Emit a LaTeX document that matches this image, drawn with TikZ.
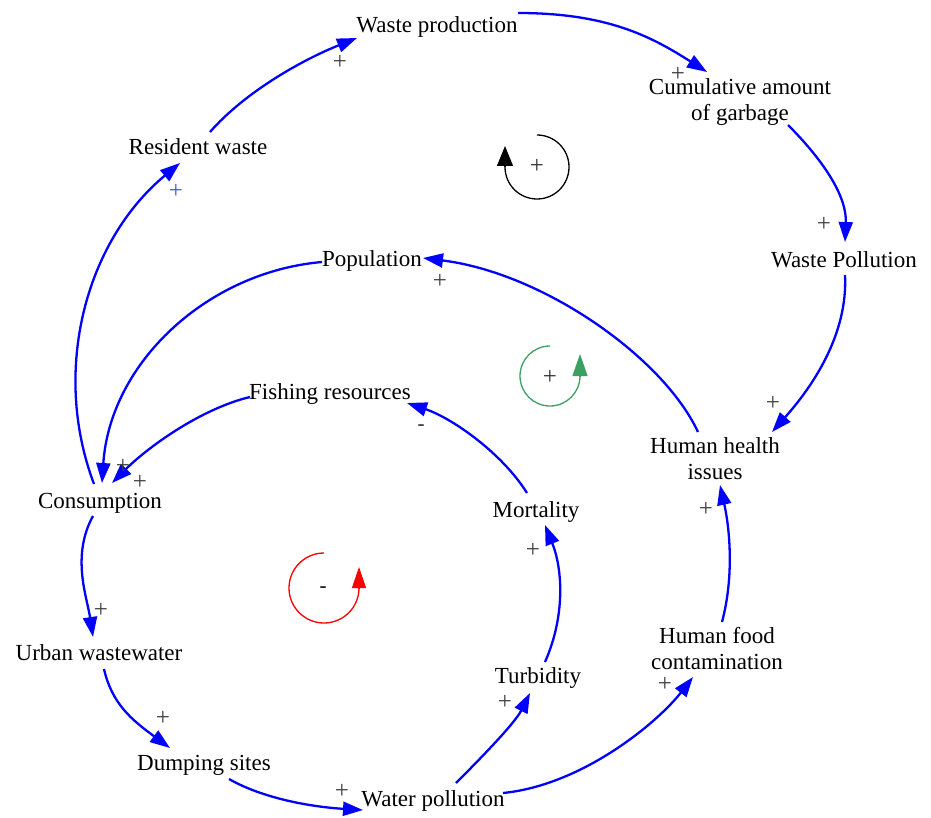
\documentclass[tikz,border=0pt]{standalone}
\usepackage{fontspec}
\setmainfont{Liberation Serif}
\usetikzlibrary{arrows.meta}
\definecolor{loopgreen}{RGB}{60,160,100}
\definecolor{plusblue}{RGB}{70,90,230}
\tikzset{
  var/.style={font=\fontsize{23}{26}\selectfont, inner sep=2pt},
  vartwo/.style={var, align=center},
  lbl/.style={font=\fontsize{25}{27}\selectfont, text=black!75, inner sep=0pt},
  mlbl/.style={font=\fontsize{21}{23}\selectfont, text=black!85, inner sep=0pt},
  link/.style={draw=blue, line width=2.3pt, -{Triangle[length=20pt,width=14pt]}},
  loopline/.style={line width=1.3pt},
}
\begin{document}
\begin{tikzpicture}[x=1pt,y=-1pt]
\useasboundingbox (0,0) rectangle (931,818);

% variables
\node[var, anchor=base] (wp)   at (437,33)  {Waste production};
\node[vartwo]           (cum)  at (740,102) {Cumulative amount\\of garbage};
\node[var, anchor=base] (rw)   at (198,155) {Resident waste};
\node[var, anchor=base] (wpol) at (844,267) {Waste Pollution};
\node[var, anchor=base] (pop)  at (372,266) {Population};
\node[var, anchor=base] (fr)   at (330,399) {Fishing resources};
\node[vartwo]           (hhi)  at (715,459) {Human health\\issues};
\node[var, anchor=base] (con)  at (100,508) {Consumption};
\node[var, anchor=base] (mort) at (536,517) {Mortality};
\node[var, anchor=base] (uw)   at (99,660)  {Urban wastewater};
\node[vartwo]           (hfc)  at (717,649) {Human food\\contamination};
\node[var, anchor=base] (turb) at (538,683) {Turbidity};
\node[var, anchor=base] (ds)   at (204,770) {Dumping sites};
\node[var, anchor=base] (wpo)  at (433,806) {Water pollution};

% links
\draw[link] ([shift={(12,-23)}]rw.base) .. controls +(35,-40) and +(-55,22) .. ([shift={(-80,5)}]wp.base);
\draw[link] ([shift={(81,-20)}]wp.base) .. controls +(90,0) and +(-55,-35) .. ([shift={(-33,-30)}]cum.center);
\draw[link] ([shift={(48,23)}]cum.center) .. controls +(28,28) and +(2,-50) .. ([shift={(1,-25)}]wpol.base);
\draw[link] ([shift={(1,8)}]wpol.base) .. controls +(3,60) and +(40,-45) .. ([shift={(57,-27)}]hhi.center);
\draw[link] ([shift={(-17,-27)}]hhi.center) .. controls +(-35,-75) and +(120,15) .. ([shift={(51,-8)}]pop.base);
\draw[link] ([shift={(-50,-4)}]pop.base) .. controls +(-115,10) and +(8,-120) .. ([shift={(2,-25)}]con.base);
\draw[link] ([shift={(-80,-2)}]fr.base) .. controls +(-50,12) and +(35,-35) .. ([shift={(12,-25)}]con.base);
\draw[link] ([shift={(-6,-24)}]con.base) .. controls +(-43,-114) and +(-94,78) .. ([shift={(-18,8)}]rw.base);
\draw[link] ([shift={(-7,8)}]con.base) .. controls +(-22,40) and +(-6,-40) .. ([shift={(-6,-23)}]uw.base);
\draw[link] ([shift={(5,9)}]uw.base) .. controls +(8,35) and +(-38,-28) .. ([shift={(-34,-22)}]ds.base);
\draw[link] ([shift={(25,9)}]ds.base) .. controls +(35,20) and +(-50,-3) .. ([shift={(-70,4)}]wpo.base);
\draw[link] ([shift={(23,-23)}]wpo.base) .. controls +(25,-25) and +(-15,30) .. ([shift={(-8,10)}]turb.base);
\draw[link] ([shift={(70,-13)}]wpo.base) .. controls +(80,-8) and +(-35,45) .. ([shift={(-24,28)}]hfc.center);
\draw[link] ([shift={(7,-21)}]turb.base) .. controls +(20,-45) and +(18,45) .. ([shift={(9,8)}]mort.base);
\draw[link] ([shift={(-9,-24)}]mort.base) .. controls +(-25,-40) and +(45,15) .. ([shift={(77,4)}]fr.base);
\draw[link] ([shift={(5,-27)}]hfc.center) .. controls +(12,-45) and +(10,45) .. ([shift={(5,26)}]hhi.center);

% polarity labels
\node[lbl] (p1)  at (340,62)  {+};
\node[lbl] (p2)  at (678,74)  {+};
\node[lbl] (p3)  at (824,224) {+};
\node[lbl] (p4)  at (773,403) {+};
\node[lbl] (p5)  at (440,281) {+};
\node[lbl] (p6)  at (123,466) {+};
\node[lbl] (p7)  at (140,482) {+};
\node[lbl, text=plusblue] (p8) at (176,191) {+};
\node[lbl] (p9)  at (101,610) {+};
\node[lbl] (p10) at (163,718) {+};
\node[lbl] (p11) at (342,791) {+};
\node[lbl] (p12) at (505,702) {+};
\node[lbl] (p13) at (665,684) {+};
\node[lbl] (p14) at (533,550) {+};
\node[lbl] (p15) at (706,509) {+};
\node[mlbl] (m1) at (421,428) {-};

% loop markers
\coordinate (lb) at (537,167);
\draw[loopline, black] ([shift={(0,-32)}]lb) .. controls +(17.7,0) and +(0,-17.7) .. ([shift={(32,0)}]lb)
  .. controls +(0,17.7) and +(17.7,0) .. ([shift={(0,32)}]lb)
  .. controls +(-17.7,0) and +(0,17.7) .. ([shift={(-32,0)}]lb);
\draw[loopline, black, -{Triangle[length=20pt,width=16pt]}] ([shift={(-32,0)}]lb) -- ([shift={(-32,-21)}]lb);
\node[lbl, text=black!80] (lbt) at (537,166) {+};

\coordinate (lg) at (550,376);
\draw[loopline, loopgreen] ([shift={(0,-30)}]lg) .. controls +(-16.6,0) and +(0,-16.6) .. ([shift={(-30,0)}]lg)
  .. controls +(0,16.6) and +(-16.6,0) .. ([shift={(0,30)}]lg)
  .. controls +(16.6,0) and +(0,16.6) .. ([shift={(30,0)}]lg);
\draw[loopline, loopgreen, -{Triangle[length=22pt,width=15pt]}] ([shift={(30,0)}]lg) -- ([shift={(30,-22)}]lg);
\node[lbl, text=black!80] (lgt) at (550,377) {+};

\coordinate (lr) at (324,588);
\draw[loopline, red] ([shift={(0,-35)}]lr) .. controls +(-19.3,0) and +(0,-19.3) .. ([shift={(-35,0)}]lr)
  .. controls +(0,19.3) and +(-19.3,0) .. ([shift={(0,35)}]lr)
  .. controls +(19.3,0) and +(0,19.3) .. ([shift={(35,0)}]lr);
\draw[loopline, red, -{Triangle[length=21pt,width=14pt]}] ([shift={(35,0)}]lr) -- ([shift={(35,-21)}]lr);
\node[mlbl, text=black] (lrt) at (323,590) {-};
\end{tikzpicture}
\end{document}
